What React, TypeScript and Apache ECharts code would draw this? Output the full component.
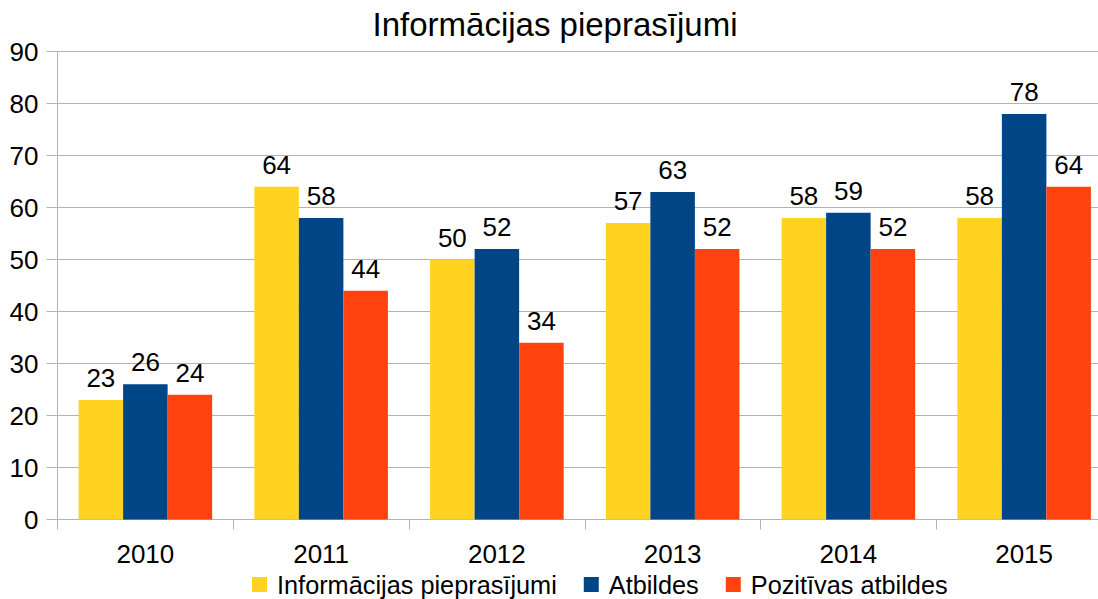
import React, { useEffect, useRef } from "react";
import * as echarts from "echarts";

const years = ["2010", "2011", "2012", "2013", "2014", "2015"];
const requests = [23, 64, 50, 57, 58, 58];
const answers = [26, 58, 52, 63, 59, 78];
const positive = [24, 44, 34, 52, 52, 64];
const seriesNames = ["Informācijas pieprasījumi", "Atbildes", "Pozitīvas atbildes"];
const colors = ["#FFD320", "#004586", "#FF420E"];

const FONT = "'Liberation Sans', Arial, sans-serif";

export default function App() {
  const ref = useRef<HTMLDivElement>(null);
  useEffect(() => {
    if (!ref.current) return;
    const chart = echarts.init(ref.current, undefined, { renderer: "svg" });
    const label = {
      show: true,
      position: "top" as const,
      distance: 9,
      color: "#000",
      fontSize: 26,
      fontFamily: FONT,
    };
    const datasets = [requests, answers, positive];
    chart.setOption({
      animation: false,
      backgroundColor: "#fff",
      textStyle: { fontFamily: FONT },
      title: {
        text: "Informācijas pieprasījumi",
        left: 555,
        top: 8,
        padding: 0,
        textAlign: "center",
        textStyle: { fontSize: 33, fontWeight: "normal", color: "#000", fontFamily: FONT },
      },
      legend: {
        left: 252,
        top: 572,
        padding: 0,
        icon: "rect",
        itemWidth: 15,
        itemHeight: 15,
        itemGap: 27,
        textStyle: { fontSize: 25.3, lineHeight: 24, color: "#000", fontFamily: FONT, padding: [0, 0, 0, 5] },
        data: seriesNames,
      },
      grid: { left: 57.5, top: 51.5, bottom: 79.5, right: 0, containLabel: false },
      xAxis: {
        type: "category",
        data: years,
        axisLine: { lineStyle: { color: "#b3b3b3", width: 1 } },
        axisTick: { show: true, length: 10, lineStyle: { color: "#b3b3b3" } },
        axisLabel: { fontSize: 26, color: "#000", margin: 21, fontFamily: FONT },
      },
      yAxis: {
        type: "value",
        min: 0,
        max: 90,
        interval: 10,
        axisLine: { show: true, lineStyle: { color: "#b3b3b3", width: 1 } },
        axisTick: { show: true, length: 11, lineStyle: { color: "#b3b3b3" } },
        splitLine: { lineStyle: { color: "#b3b3b3", width: 1 } },
        axisLabel: { fontSize: 26, color: "#000", margin: 19, fontFamily: FONT },
      },
      series: seriesNames.map((name, i) => ({
        name,
        type: "bar",
        data: datasets[i],
        itemStyle: { color: colors[i] },
        barGap: "0%",
        barCategoryGap: "24%",
        label,
      })),
    });
    return () => chart.dispose();
  }, []);
  return (
    <div
      style={{ position: "fixed", left: 0, top: 0, width: 1098, height: 599, overflow: "hidden", background: "#fff" }}
    >
      <div ref={ref} style={{ width: 1112, height: 599 }} />
    </div>
  );
}
